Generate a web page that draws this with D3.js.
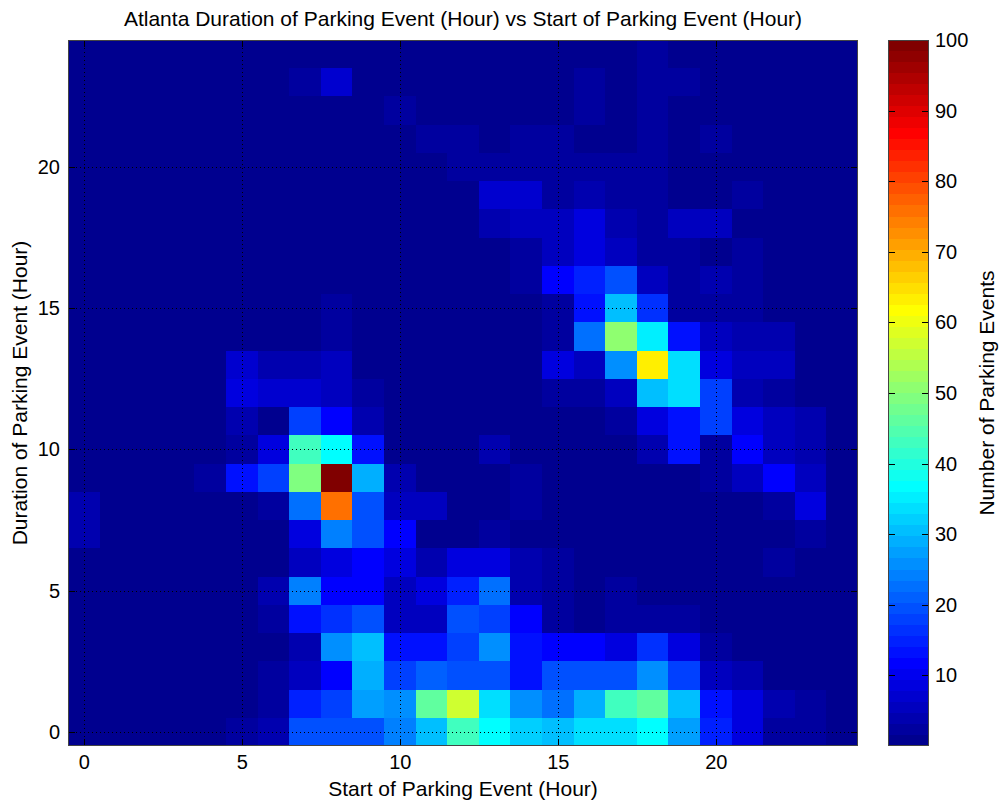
<!DOCTYPE html>
<html>
<head>
<meta charset="utf-8">
<script src="https://cdn.jsdelivr.net/npm/d3@7"></script>
<style>
  body { margin: 0; background: #fff; }
  text { font-family: "Liberation Sans", Arial, Helvetica, sans-serif; fill: #000; }
</style>
</head>
<body>
<div id="chart"></div>
<script>
// start hour = columns, duration = rows (top row first, as in the picture)
const startHours = [0,1,2,3,4,5,6,7,8,9,10,11,12,13,14,15,16,17,18,19,20,21,22,23,24];
const durationHours = [24,23,22,21,20,19,18,17,16,15,14,13,12,11,10,9,8,7,6,5,4,3,2,1,0];
const counts = [
  [1,1,1,1,1,1,1,1,1,1,1,1,1,1,1,1,1,1,3,1,1,1,1,1,1],
  [1,1,1,1,1,1,1,3,7,1,1,1,1,1,1,1,3,1,3,3,1,1,1,1,1],
  [1,1,1,1,1,1,1,1,1,1,3,1,1,1,1,1,3,1,3,1,1,1,1,1,1],
  [1,1,1,1,1,1,1,1,1,1,1,3,3,1,3,3,1,1,3,1,3,1,1,1,1],
  [1,1,1,1,1,1,1,1,1,1,1,1,3,2,2,2,2,2,2,1,1,1,1,1,1],
  [1,1,1,1,1,1,1,1,1,1,1,1,1,7,7,3,4,3,3,1,1,3,1,1,1],
  [1,1,1,1,1,1,1,1,1,1,1,1,1,4,6,5,8,4,3,5,5,1,1,1,1],
  [1,1,1,1,1,1,1,1,1,1,1,1,1,1,3,6,9,6,2,2,1,3,1,1,1],
  [1,1,1,1,1,1,1,1,1,1,1,1,1,1,2,11,15,19,5,2,4,3,1,1,1],
  [1,1,1,1,1,1,1,1,3,1,1,1,1,1,1,3,13,31,16,3,3,3,1,1,1],
  [1,1,1,1,1,1,1,1,3,1,1,1,1,1,1,3,22,50,35,13,5,4,4,1,1],
  [1,1,1,1,1,7,4,4,5,1,1,1,1,1,1,8,5,25,64,34,8,5,5,1,1],
  [1,1,1,1,1,8,7,7,6,3,1,1,1,1,1,2,3,5,30,34,18,4,3,1,1],
  [1,1,1,1,1,4,1,18,12,4,1,1,1,1,1,1,1,2,8,14,18,9,5,4,1],
  [1,1,1,1,1,3,8,43,37,13,1,1,1,4,1,1,1,1,4,13,2,11,5,4,1],
  [1,1,1,1,3,14,18,49,100,29,4,1,1,1,2,1,1,1,1,1,2,5,12,5,1],
  [4,1,1,1,1,1,2,23,76,20,6,6,1,1,2,1,1,1,1,1,1,1,2,9,1],
  [4,1,1,1,1,1,1,9,24,20,11,1,1,2,1,1,1,1,1,1,1,1,1,3,1],
  [1,1,1,1,1,1,1,5,9,12,8,4,8,8,4,3,1,1,1,1,1,1,2,1,1],
  [1,1,1,1,1,1,4,24,11,11,6,9,15,22,4,2,1,2,1,1,1,1,1,1,1],
  [1,1,1,1,1,1,3,13,16,20,6,5,20,18,12,2,1,3,2,2,1,1,1,1,1],
  [1,1,1,1,1,1,1,4,26,30,13,13,18,26,13,11,12,8,16,9,2,1,1,1,1],
  [1,1,1,1,1,1,2,6,11,29,18,21,19,19,14,19,19,20,26,18,6,4,1,1,1],
  [1,1,1,1,1,1,2,15,18,28,25,46,57,34,26,23,29,43,46,30,14,8,4,2,1],
  [1,1,1,1,1,3,4,20,20,20,24,31,43,37,32,31,34,34,37,28,15,8,3,3,1]
];
const xTicks = [0, 5, 10, 15, 20];
const yTicks = [0, 5, 10, 15, 20];
const colorTicks = [10, 20, 30, 40, 50, 60, 70, 80, 90, 100];
const colorLimits = [0, 100];

const width = 1002, height = 801;
const plot = {left: 68, right: 858, top: 40, bottom: 746};
const bar = {left: 888, right: 929};
const tickLen = 7;

const svg = d3.select("#chart")
              .append("svg")
              .attr("width", width)
              .attr("height", height);

svg.append("rect").attr("width", width).attr("height", height).attr("fill", "#fff");

// matlab jet(64)
function jet(k) {
  const i = k + 1;
  const r = i <= 24 ? 0 : i <= 40 ? (i - 24) / 16 : i <= 56 ? 1 : (72 - i) / 16;
  const g = i <= 8 ? 0 : i <= 24 ? (i - 8) / 16 : i <= 40 ? 1 : i <= 56 ? (56 - i) / 16 : 0;
  const b = i <= 7 ? (i + 8) / 16 : i <= 24 ? 1 : i <= 40 ? (40 - i) / 16 : 0;
  return d3.rgb(r * 255, g * 255, b * 255).formatHex();
}
const jetColors = d3.range(64).map(jet);
const color = d3.scaleQuantize().domain(colorLimits).range(jetColors);

const x = d3.scaleLinear().domain([-0.5, 24.5]).range([plot.left, plot.right]);
const y = d3.scaleLinear().domain([-0.5, 24.5]).range([plot.bottom, plot.top]);
const px = v => Math.round(x(v)), py = v => Math.round(y(v));

const cells = [];
counts.forEach((row, r) => {
  row.forEach((v, c) => cells.push({start: startHours[c], dur: durationHours[r], value: v}));
});

svg.append("g")
   .attr("shape-rendering", "crispEdges")
   .selectAll("rect")
   .data(cells)
   .enter()
   .append("rect")
   .attr("x", d => px(d.start - 0.5))
   .attr("y", d => py(d.dur + 0.5))
   .attr("width", d => px(d.start + 0.5) - px(d.start - 0.5))
   .attr("height", d => py(d.dur - 0.5) - py(d.dur + 0.5))
   .attr("fill", d => color(d.value));

// dotted grid
const grid = svg.append("g")
                .attr("stroke", "#000")
                .attr("stroke-width", 1)
                .attr("shape-rendering", "crispEdges")
                .attr("stroke-dasharray", "1,3");
grid.selectAll(".gx")
    .data(xTicks)
    .enter()
    .append("line")
    .attr("x1", d => px(d) + 0.5).attr("x2", d => px(d) + 0.5)
    .attr("y1", plot.top).attr("y2", plot.bottom);
grid.selectAll(".gy")
    .data(yTicks)
    .enter()
    .append("line")
    .attr("y1", d => py(d) + 0.5).attr("y2", d => py(d) + 0.5)
    .attr("x1", plot.left).attr("x2", plot.right);

function styleAxis(g) {
  g.select(".domain").remove();
  g.selectAll(".tick line").attr("stroke", "#000").attr("shape-rendering", "crispEdges");
  g.selectAll("text").style("font-size", "20px").attr("fill", "#000");
}

svg.append("g")
   .attr("transform", `translate(0,${plot.bottom})`)
   .call(d3.axisBottom(x).tickValues(xTicks).tickSizeInner(-tickLen).tickSizeOuter(0).tickPadding(9))
   .call(styleAxis);
svg.append("g")
   .attr("transform", `translate(0,${plot.top})`)
   .call(d3.axisTop(x).tickValues(xTicks).tickSizeInner(-tickLen).tickSizeOuter(0).tickFormat(""))
   .call(styleAxis);
svg.append("g")
   .attr("transform", `translate(${plot.left},0)`)
   .call(d3.axisLeft(y).tickValues(yTicks).tickSizeInner(-tickLen).tickSizeOuter(0).tickPadding(8))
   .call(styleAxis);
svg.append("g")
   .attr("transform", `translate(${plot.right},0)`)
   .call(d3.axisRight(y).tickValues(yTicks).tickSizeInner(-tickLen).tickSizeOuter(0).tickFormat(""))
   .call(styleAxis);

svg.append("rect")
   .attr("x", plot.left + 0.5).attr("y", plot.top + 0.5)
   .attr("width", plot.right - plot.left - 1).attr("height", plot.bottom - plot.top - 1)
   .attr("fill", "none").attr("stroke", "#444");

// colorbar
const cy = d3.scaleLinear().domain(colorLimits).range([plot.bottom, plot.top]);
svg.append("g")
   .attr("shape-rendering", "crispEdges")
   .selectAll("rect")
   .data(jetColors)
   .enter()
   .append("rect")
   .attr("x", bar.left)
   .attr("width", bar.right - bar.left)
   .attr("y", d => Math.round(cy(color.invertExtent(d)[1])))
   .attr("height", d => Math.round(cy(color.invertExtent(d)[0])) - Math.round(cy(color.invertExtent(d)[1])))
   .attr("fill", d => d);

svg.append("g")
   .attr("transform", `translate(${bar.right},0)`)
   .call(d3.axisRight(cy).tickValues(colorTicks).tickSizeInner(-tickLen).tickSizeOuter(0).tickPadding(6))
   .call(styleAxis);
svg.append("g")
   .attr("transform", `translate(${bar.left},0)`)
   .call(d3.axisLeft(cy).tickValues(colorTicks).tickSizeInner(-tickLen).tickSizeOuter(0).tickFormat(""))
   .call(styleAxis);

svg.append("rect")
   .attr("x", bar.left + 0.5).attr("y", plot.top + 0.5)
   .attr("width", bar.right - bar.left - 1).attr("height", plot.bottom - plot.top - 1)
   .attr("fill", "none").attr("stroke", "#444");

// labels
const midX = (plot.left + plot.right) / 2, midY = (plot.top + plot.bottom) / 2;
svg.append("text")
   .attr("x", midX).attr("y", 26)
   .attr("text-anchor", "middle")
   .style("font-size", "21px")
   .text("Atlanta Duration of Parking Event (Hour) vs Start of Parking Event (Hour)");
svg.append("text")
   .attr("x", midX).attr("y", 796)
   .attr("text-anchor", "middle")
   .style("font-size", "21px")
   .text("Start of Parking Event (Hour)");
svg.append("text")
   .attr("transform", `translate(27,${midY}) rotate(-90)`)
   .attr("text-anchor", "middle")
   .style("font-size", "21px")
   .text("Duration of Parking Event (Hour)");
svg.append("text")
   .attr("transform", `translate(994,${midY}) rotate(-90)`)
   .attr("text-anchor", "middle")
   .style("font-size", "21px")
   .text("Number of Parking Events");
</script>
</body>
</html>
